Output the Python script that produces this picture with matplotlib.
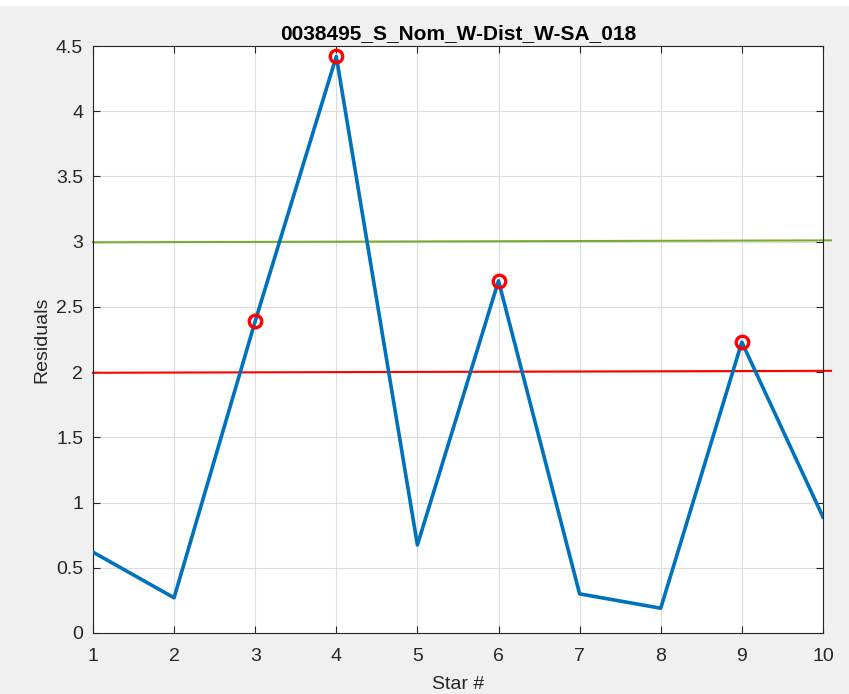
import matplotlib
matplotlib.use('Agg')
import matplotlib.pyplot as plt
from matplotlib.patches import Rectangle

plt.rcParams['font.family'] = ['Liberation Sans', 'DejaVu Sans']

# residual per star
stars = [1, 2, 3, 4, 5, 6, 7, 8, 9, 10]
residuals = [0.62, 0.27, 2.39, 4.42, 0.675, 2.70, 0.30, 0.19, 2.23, 0.89]

# threshold lines (end points)
warn_x = [1, 10.1]
warn_y = [2.995, 3.01]
limit_x = [1, 10.1]
limit_y = [1.995, 2.01]
limit = 2.0

fig = plt.figure(figsize=(8.49, 6.94), dpi=100)
fig.patch.set_facecolor('#f0f0f0')
fig.patches.append(Rectangle((0, 0.991), 1, 0.009, transform=fig.transFigure,
                             facecolor='white', edgecolor='none'))
ax = fig.add_axes([0.1095, 0.0879, 0.8598, 0.8458])

ax.plot(stars, residuals, color='#0072BD', lw=2.6, zorder=3)
out_x = [s for s, r in zip(stars, residuals) if r > limit]
out_y = [r for r in residuals if r > limit]
ax.plot(out_x, out_y, 'o', mfc='none', mec='#ff0000', mew=2.4, ms=9, zorder=4)

ax.plot(warn_x, warn_y, color='#77ac30', lw=1.5, clip_on=False, zorder=2)
ax.plot(limit_x, limit_y, color='#ff0000', lw=1.5, clip_on=False, zorder=2)

ax.set_xlim(1, 10)
ax.set_ylim(0, 4.5)
ax.set_xticks(range(1, 11))
ax.set_yticks([0, 0.5, 1, 1.5, 2, 2.5, 3, 3.5, 4, 4.5])
ax.set_yticklabels(['0', '0.5', '1', '1.5', '2', '2.5', '3', '3.5', '4', '4.5'])
ax.grid(True, color='#dcdcdc', lw=0.8)
ax.set_axisbelow(True)
ax.tick_params(direction='in', top=True, right=True, length=5, labelsize=14,
               colors='#262626')
ax.tick_params(axis='x', pad=11)
ax.tick_params(axis='y', pad=7)
for s in ax.spines.values():
    s.set_color('#262626')
    s.set_linewidth(0.8)

ax.set_xlabel('Star #', fontsize=14, color='#262626', labelpad=8)
ax.set_ylabel('Residuals', fontsize=14, color='#262626', labelpad=4)
ax.set_title('0038495_S_Nom_W-Dist_W-SA_018', fontsize=15, fontweight='bold',
             color='black', pad=5)

fig.savefig('out.png', dpi=100, facecolor=fig.get_facecolor())
